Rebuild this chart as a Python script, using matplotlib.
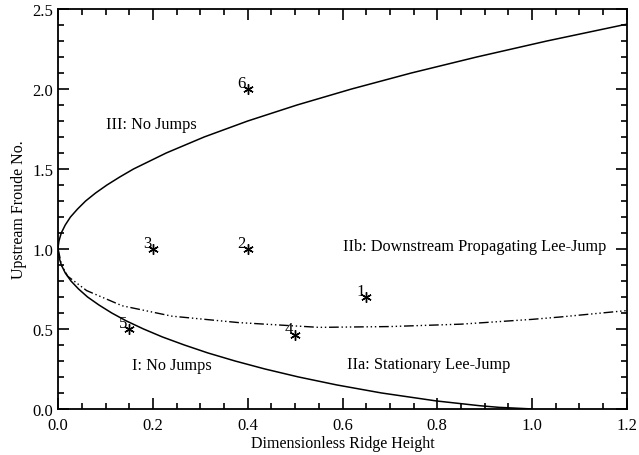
import matplotlib.pyplot as plt
from matplotlib.ticker import MultipleLocator, FormatStrFormatter

plt.rcParams['font.family'] = ['Liberation Serif', 'DejaVu Serif']

# Upper critical curve (ridge height, Froude no.)
upper_h = [0.0, 0.0003, 0.0017, 0.0066, 0.015, 0.026, 0.041, 0.058, 0.079, 0.103,
           0.130, 0.159, 0.228, 0.308, 0.400, 0.504, 0.619, 0.745, 0.883, 1.031,
           1.191, 1.2]
upper_f = [1.0, 1.02, 1.05, 1.1, 1.15, 1.2, 1.25, 1.3, 1.35, 1.4,
           1.45, 1.5, 1.6, 1.7, 1.8, 1.9, 2.0, 2.1, 2.2, 2.3,
           2.4, 2.405]

# Lower critical curve
lower_h = [0.0, 0.0003, 0.0017, 0.0067, 0.015, 0.027, 0.043, 0.062, 0.086, 0.113,
           0.144, 0.180, 0.220, 0.266, 0.316, 0.373, 0.436, 0.507, 0.588, 0.682,
           0.798, 0.890, 0.930, 1.0]
lower_f = [1.0, 0.98, 0.95, 0.9, 0.85, 0.8, 0.75, 0.7, 0.65, 0.6,
           0.55, 0.5, 0.45, 0.4, 0.35, 0.3, 0.25, 0.2, 0.15, 0.1,
           0.05, 0.02, 0.01, 0.0]

# Stationary jump boundary (dash-dot-dot)
jump_h = [0.0, 0.007, 0.02, 0.06, 0.135, 0.24, 0.38, 0.55, 0.7, 0.85, 1.0, 1.06, 1.2]
jump_f = [1.0, 0.9, 0.83, 0.74, 0.645, 0.58, 0.54, 0.51, 0.515, 0.53, 0.56, 0.575, 0.615]

# Experiment points
case_ids = ['1', '2', '3', '4', '5', '6']
case_h = [0.65, 0.40, 0.20, 0.50, 0.15, 0.40]
case_f = [0.70, 1.00, 1.00, 0.46, 0.50, 2.00]

# Region labels
region_text = ['III: No Jumps', 'IIb: Downstream Propagating Lee-Jump',
               'I: No Jumps', 'IIa: Stationary Lee-Jump']
region_h = [0.10, 0.60, 0.155, 0.61]
region_f = [1.78, 1.02, 0.275, 0.28]

fig = plt.figure(figsize=(6.39, 4.56), dpi=100)
ax = fig.add_axes([0.091, 0.101, 0.890, 0.877])

ax.plot(upper_h, upper_f, color='black', lw=1.1)
ax.plot(lower_h, lower_f, color='black', lw=1.1)
ax.plot(jump_h, jump_f, color='black', lw=1.0,
        linestyle=(0, (7, 2, 1, 2, 1, 2, 1, 2)))

ax.plot(case_h, case_f, linestyle='none', marker=(6, 2, 0),
        markersize=7.5, color='black', markeredgewidth=1.0)
for cid, h, f in zip(case_ids, case_h, case_f):
    ax.annotate(cid, (h, f), xytext=(-6, 6), textcoords='offset pixels',
                ha='center', va='center', fontsize=12)

for txt, h, f in zip(region_text, region_h, region_f):
    ax.text(h, f, txt, ha='left', va='center', fontsize=11.7)

ax.set_xlim(0, 1.2)
ax.set_ylim(0, 2.5)
ax.xaxis.set_major_locator(MultipleLocator(0.2))
ax.xaxis.set_minor_locator(MultipleLocator(0.05))
ax.yaxis.set_major_locator(MultipleLocator(0.5))
ax.yaxis.set_minor_locator(MultipleLocator(0.1))
ax.xaxis.set_major_formatter(FormatStrFormatter('%.1f'))
ax.yaxis.set_major_formatter(FormatStrFormatter('%.1f'))
ax.tick_params(which='both', direction='in', top=True, right=True,
               width=1.2, labelsize=12)
ax.tick_params(axis='x', pad=6)
ax.tick_params(which='major', length=8)
ax.tick_params(which='minor', length=4)
for s in ax.spines.values():
    s.set_linewidth(1.3)

ax.set_xlabel('Dimensionless Ridge Height', fontsize=11.5, labelpad=1)
ax.set_ylabel('Upstream Froude No.', fontsize=11.5, labelpad=4)

fig.savefig('out.png', dpi=100)
